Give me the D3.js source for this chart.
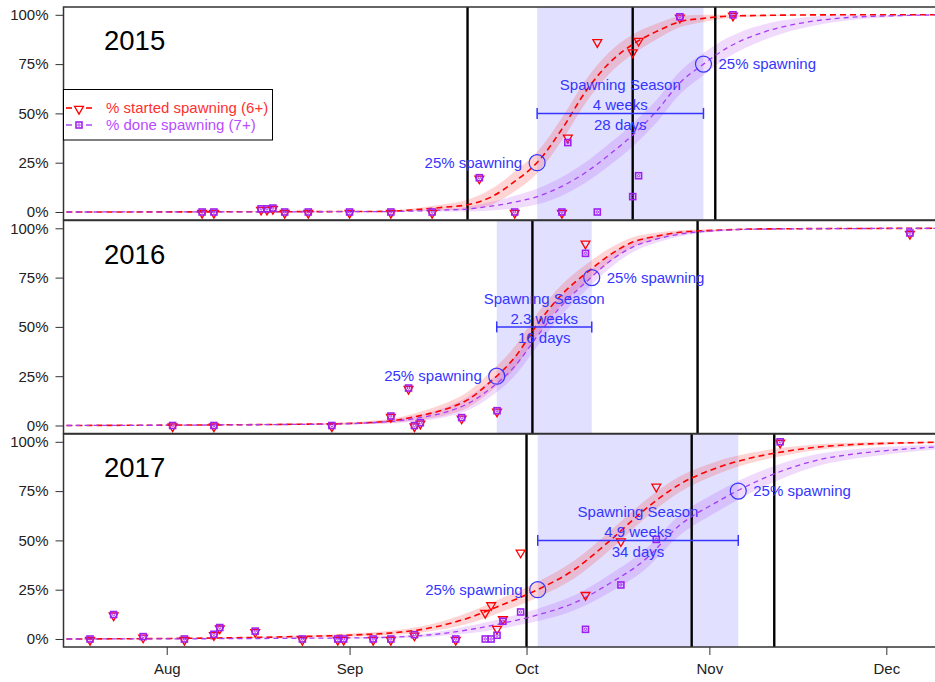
<!DOCTYPE html>
<html><head><meta charset="utf-8">
<script src="https://cdn.jsdelivr.net/npm/d3@7"></script>
<style>body{margin:0;background:#fff} text{font-family:"Liberation Sans",Arial,sans-serif}</style>
</head><body><svg id="c" width="935" height="682"></svg>
<script>
// ---------- data ----------
const years = ["2015", "2016", "2017"];
const months = ["Aug", "Sep", "Oct", "Nov", "Dec"];
const monthDoy = [213, 244, 274, 305, 335];
const yTicks = [0, 0.25, 0.5, 0.75, 1];
const legendLabels = ["% started spawning (6+)", "% done spawning (7+)"];

// observed proportions (day of year)
const obs2015Day = [219, 221, 229, 230, 231, 233, 237, 244, 251, 258, 266, 272, 280, 281, 286, 292, 293, 300, 309];
const obs2015Started = [0, 0, 0.016, 0.016, 0.02, 0, 0, 0, 0, 0, 0.174, 0, 0, 0.382, 0.866, 0.814, 0.873, 0.99, 1];
const obs2015Done = [0, 0, 0.016, 0.016, 0.02, 0, 0, 0, 0, 0, 0.174, 0, 0, 0.352, 0, 0.078, 0.184, 0.99, 1];

const obs2016Day = [214, 221, 241, 251, 254, 255, 256, 263, 269, 284, 339];
const obs2016Started = [0, 0, 0, 0.048, 0.19, 0, 0.014, 0.04, 0.075, 0.927, 0.976];
const obs2016Done = [0, 0, 0, 0.048, 0.19, 0, 0.014, 0.04, 0.075, 0.873, 0.976];

const obs2017Day = [200, 204, 209, 216, 221, 222, 228, 236, 242, 243, 248, 251, 255, 262, 267, 268, 269, 270, 273, 284, 290, 296, 317];
const obs2017Started = [0, 0.124, 0.012, 0, 0.024, 0.058, 0.04, 0, 0, 0, 0, 0, 0.022, 0, 0.137, 0.176, 0.056, 0.105, 0.443, 0.228, 0.5, 0.777, 1];
const obs2017Done = [0, 0.124, 0.012, 0, 0.024, 0.058, 0.04, 0, 0, 0, 0, 0, 0.022, 0, 0, 0, 0.019, 0.09, 0.137, 0.049, 0.274, 0.505, 1];

// fitted curves with band half-widths
const fit2015Day = [196, 250, 256, 260, 264, 268, 272, 276, 280, 284, 288, 292, 296, 300, 304, 308, 314, 320, 328, 336, 344];
const fit2015Started = [0, 0.003, 0.014, 0.024, 0.037, 0.076, 0.155, 0.257, 0.42, 0.61, 0.755, 0.85, 0.915, 0.965, 0.982, 0.993, 0.997, 0.999, 1, 1, 1];
const fit2015StartedBand = [0, 0.003, 0.008, 0.015, 0.025, 0.04, 0.05, 0.055, 0.058, 0.058, 0.055, 0.05, 0.04, 0.028, 0.018, 0.01, 0.005, 0.002, 0, 0, 0];
const fit2015Done = [0, 0.002, 0.006, 0.01, 0.015, 0.03, 0.05, 0.08, 0.13, 0.2, 0.29, 0.39, 0.51, 0.655, 0.75, 0.832, 0.91, 0.955, 0.985, 0.995, 1];
const fit2015DoneBand = [0, 0.002, 0.004, 0.007, 0.012, 0.022, 0.032, 0.04, 0.047, 0.052, 0.056, 0.058, 0.058, 0.058, 0.056, 0.05, 0.04, 0.028, 0.015, 0.006, 0];

const fit2016Day = [196, 240, 250, 256, 260, 264, 268, 272, 276, 280, 284, 288, 292, 296, 300, 306, 314, 344];
const fit2016Started = [0, 0.008, 0.02, 0.05, 0.08, 0.13, 0.225, 0.345, 0.52, 0.665, 0.77, 0.862, 0.93, 0.96, 0.98, 0.99, 0.997, 1];
const fit2016StartedBand = [0, 0.004, 0.01, 0.02, 0.03, 0.04, 0.05, 0.055, 0.055, 0.05, 0.045, 0.035, 0.025, 0.018, 0.01, 0.005, 0.002, 0];
const fit2016Done = [0, 0.007, 0.018, 0.04, 0.065, 0.11, 0.19, 0.3, 0.46, 0.61, 0.725, 0.83, 0.905, 0.945, 0.97, 0.988, 0.996, 1];
const fit2016DoneBand = [0, 0.003, 0.008, 0.016, 0.024, 0.034, 0.042, 0.048, 0.05, 0.048, 0.042, 0.035, 0.026, 0.018, 0.011, 0.005, 0.002, 0];

const fit2017Day = [196, 226, 236, 246, 252, 258, 264, 270, 276, 282, 288, 294, 300, 306, 312, 318, 324, 330, 336, 344];
const fit2017Started = [0, 0.007, 0.013, 0.022, 0.033, 0.058, 0.105, 0.175, 0.252, 0.35, 0.495, 0.655, 0.785, 0.865, 0.918, 0.952, 0.975, 0.987, 0.993, 0.998];
const fit2017StartedBand = [0, 0.003, 0.005, 0.008, 0.012, 0.018, 0.028, 0.035, 0.04, 0.045, 0.048, 0.045, 0.04, 0.033, 0.026, 0.02, 0.014, 0.01, 0.007, 0.004];
const fit2017Done = [0, 0.002, 0.004, 0.006, 0.01, 0.022, 0.046, 0.08, 0.123, 0.182, 0.28, 0.4, 0.578, 0.69, 0.785, 0.86, 0.912, 0.94, 0.958, 0.975];
const fit2017DoneBand = [0, 0.001, 0.002, 0.004, 0.006, 0.01, 0.018, 0.025, 0.032, 0.038, 0.045, 0.05, 0.052, 0.05, 0.045, 0.038, 0.03, 0.024, 0.018, 0.012];

// spawning season (25% started -> 75% done) and reference dates
const seasonStart = [275.8, 268.95, 275.9];
const seasonEnd = [304.0, 285.06, 309.9];
const seasonWeeks = ["4 weeks", "2.3 weeks", "4.9 weeks"];
const seasonDays = ["28 days", "16 days", "34 days"];
const seasonLow = 0.25, seasonHigh = 0.75;
const markerDays2015 = [264, 292, 306];
const markerDays2016 = [275, 303];
const markerDays2017 = [274, 302, 316];

// ---------- assemble ----------
const panels = [
  {obsDay: obs2015Day, obsS: obs2015Started, obsD: obs2015Done, fitDay: fit2015Day, fitS: fit2015Started, fitSB: fit2015StartedBand, fitD: fit2015Done, fitDB: fit2015DoneBand, marks: markerDays2015},
  {obsDay: obs2016Day, obsS: obs2016Started, obsD: obs2016Done, fitDay: fit2016Day, fitS: fit2016Started, fitSB: fit2016StartedBand, fitD: fit2016Done, fitDB: fit2016DoneBand, marks: markerDays2016},
  {obsDay: obs2017Day, obsS: obs2017Started, obsD: obs2017Done, fitDay: fit2017Day, fitS: fit2017Started, fitSB: fit2017StartedBand, fitD: fit2017Done, fitDB: fit2017DoneBand, marks: markerDays2017}
];

const RED = "#ff0000", PURPLE = "#a020f0", BLUE = "#3535ff";
const svg = d3.select("#c");
svg.append("rect").attr("width", 935).attr("height", 682).attr("fill", "#fff");
const left = 63.5, right = 940;
const x = d3.scaleLinear().domain([195.5, 344.1]).range([left, right]);
const panelTops = [7, 220.5, 434], PH = 213;
const defs = svg.append("defs");
const tri = d3.symbol().type(d3.symbolTriangle).size(34);

function drawTri(g, cx, cy) {
  g.append("path").attr("d", tri()).attr("transform", `translate(${cx},${cy + 1}) rotate(180)`)
    .attr("fill", "none").attr("stroke", RED).attr("stroke-width", 1.3);
}
function drawSq(g, cx, cy) {
  g.append("rect").attr("x", cx - 3).attr("y", cy - 3).attr("width", 6).attr("height", 6)
    .attr("fill", "none").attr("stroke", PURPLE).attr("stroke-width", 1.6);
  g.append("circle").attr("cx", cx).attr("cy", cy).attr("r", 1.2)
    .attr("fill", "none").attr("stroke", PURPLE).attr("stroke-width", 0.9);
}

panels.forEach((p, i) => {
  const top = panelTops[i];
  const y = d3.scaleLinear().domain([-0.0406, 1.0396]).range([top + PH, top]);
  defs.append("clipPath").attr("id", "clip" + i).append("rect")
    .attr("x", left).attr("y", top).attr("width", right - left).attr("height", PH);
  const g = svg.append("g").attr("clip-path", `url(#clip${i})`);

  // season shading
  g.append("rect").attr("x", x(seasonStart[i])).attr("y", top)
    .attr("width", x(seasonEnd[i]) - x(seasonStart[i])).attr("height", PH).attr("fill", "#e1e1ff");

  const idx = d3.range(p.fitDay.length);
  const band = (vals, half) => d3.area().curve(d3.curveMonotoneX)
    .x(k => x(p.fitDay[k]))
    .y0(k => y(Math.max(0, vals[k] - half[k])))
    .y1(k => y(Math.min(1, vals[k] + half[k])));
  g.append("path").attr("d", band(p.fitS, p.fitSB)(idx)).attr("fill", "rgba(255,0,0,0.17)");
  g.append("path").attr("d", band(p.fitD, p.fitDB)(idx)).attr("fill", "rgba(160,32,240,0.16)");

  // reference vertical lines
  p.marks.forEach(d => {
    g.append("line").attr("x1", x(d)).attr("x2", x(d)).attr("y1", top).attr("y2", top + PH)
      .attr("stroke", "#000").attr("stroke-width", 2.4);
  });

  const line = vals => d3.line().curve(d3.curveMonotoneX).x(k => x(p.fitDay[k])).y(k => y(vals[k]));
  g.append("path").attr("d", line(p.fitS)(idx)).attr("fill", "none").attr("stroke", RED)
    .attr("stroke-width", 1.6).attr("stroke-dasharray", "6,4");
  g.append("path").attr("d", line(p.fitD)(idx)).attr("fill", "none").attr("stroke", "#a63cf5")
    .attr("stroke-width", 1.3).attr("stroke-dasharray", "5,4");

  // observations
  p.obsDay.forEach((d, k) => drawTri(g, x(d), y(p.obsS[k])));
  p.obsDay.forEach((d, k) => drawSq(g, x(d), y(p.obsD[k])));

  // season annotation
  const xs = x(seasonStart[i]), xe = x(seasonEnd[i]), xm = (xs + xe) / 2, yb = y(0.5);
  const ann = svg.append("g").attr("fill", BLUE).attr("font-size", 15);
  ann.append("circle").attr("cx", xs).attr("cy", y(seasonLow)).attr("r", 8).attr("fill", "none").attr("stroke", BLUE).attr("stroke-width", 1.2);
  ann.append("circle").attr("cx", xe).attr("cy", y(seasonHigh)).attr("r", 8).attr("fill", "none").attr("stroke", BLUE).attr("stroke-width", 1.2);
  ann.append("text").attr("x", xs - 15).attr("y", y(seasonLow)).attr("dy", "0.35em").attr("text-anchor", "end").text("25% spawning");
  ann.append("text").attr("x", xe + 15).attr("y", y(seasonHigh)).attr("dy", "0.35em").text("25% spawning");
  ann.append("line").attr("x1", xs).attr("x2", xe).attr("y1", yb).attr("y2", yb).attr("stroke", BLUE).attr("stroke-width", 1.5);
  [xs, xe].forEach(xx => ann.append("line").attr("x1", xx).attr("x2", xx).attr("y1", yb - 5.5).attr("y2", yb + 5.5).attr("stroke", BLUE).attr("stroke-width", 1.5));
  ann.append("text").attr("x", xm).attr("y", yb - 28.5).attr("dy", "0.35em").attr("text-anchor", "middle").text("Spawning Season");
  ann.append("text").attr("x", xm).attr("y", yb - 8.5).attr("dy", "0.35em").attr("text-anchor", "middle").text(seasonWeeks[i]);
  ann.append("text").attr("x", xm).attr("y", yb + 11).attr("dy", "0.35em").attr("text-anchor", "middle").text(seasonDays[i]);

  // year label
  svg.append("text").attr("x", 104).attr("y", top + 43.3).attr("font-size", 27.5).attr("fill", "#000").text(years[i]);

  // border
  svg.append("rect").attr("x", left).attr("y", top).attr("width", right - left).attr("height", PH)
    .attr("fill", "none").attr("stroke", "#333").attr("stroke-width", 1.5);

  // y axis
  const ya = svg.append("g").attr("transform", `translate(${left},0)`)
    .call(d3.axisLeft(y).tickValues(yTicks).tickFormat(d => Math.round(d * 100) + "%").tickSize(8).tickPadding(7));
  ya.select(".domain").remove();
  ya.selectAll("text").attr("font-size", 15).attr("font-family", "Liberation Sans, Arial, sans-serif").attr("fill", "#222");
  ya.selectAll("line").attr("stroke", "#333");

  if (i === 2) {
    const xa = svg.append("g").attr("transform", `translate(0,${top + PH})`)
      .call(d3.axisBottom(x).tickValues(monthDoy).tickFormat((d, k) => months[k]).tickSize(8).tickPadding(8.5));
    xa.select(".domain").remove();
    xa.selectAll("text").attr("font-size", 15).attr("font-family", "Liberation Sans, Arial, sans-serif").attr("fill", "#222");
    xa.selectAll("line").attr("stroke", "#333");
  }
});

// legend (top panel)
const lg = svg.append("g");
lg.append("rect").attr("x", 63.5).attr("y", 89.5).attr("width", 209).attr("height", 50.5)
  .attr("fill", "#fff").attr("stroke", "#000").attr("stroke-width", 1);
const legY = [108, 125];
[[RED, 1.6], ["#a63cf5", 1.4]].forEach(([c, w], k) => {
  lg.append("line").attr("x1", 66).attr("x2", 72).attr("y1", legY[k]).attr("y2", legY[k]).attr("stroke", c).attr("stroke-width", w);
  lg.append("line").attr("x1", 86).attr("x2", 92).attr("y1", legY[k]).attr("y2", legY[k]).attr("stroke", c).attr("stroke-width", w);
});
drawTri(lg, 79, legY[0]);
drawSq(lg, 79, legY[1]);
lg.append("text").attr("x", 106).attr("y", legY[0]).attr("dy", "0.35em").attr("font-size", 15).attr("fill", "#ff3030").text(legendLabels[0]);
lg.append("text").attr("x", 106).attr("y", legY[1]).attr("dy", "0.35em").attr("font-size", 15).attr("fill", "#b84cff").text(legendLabels[1]);
</script></body></html>
